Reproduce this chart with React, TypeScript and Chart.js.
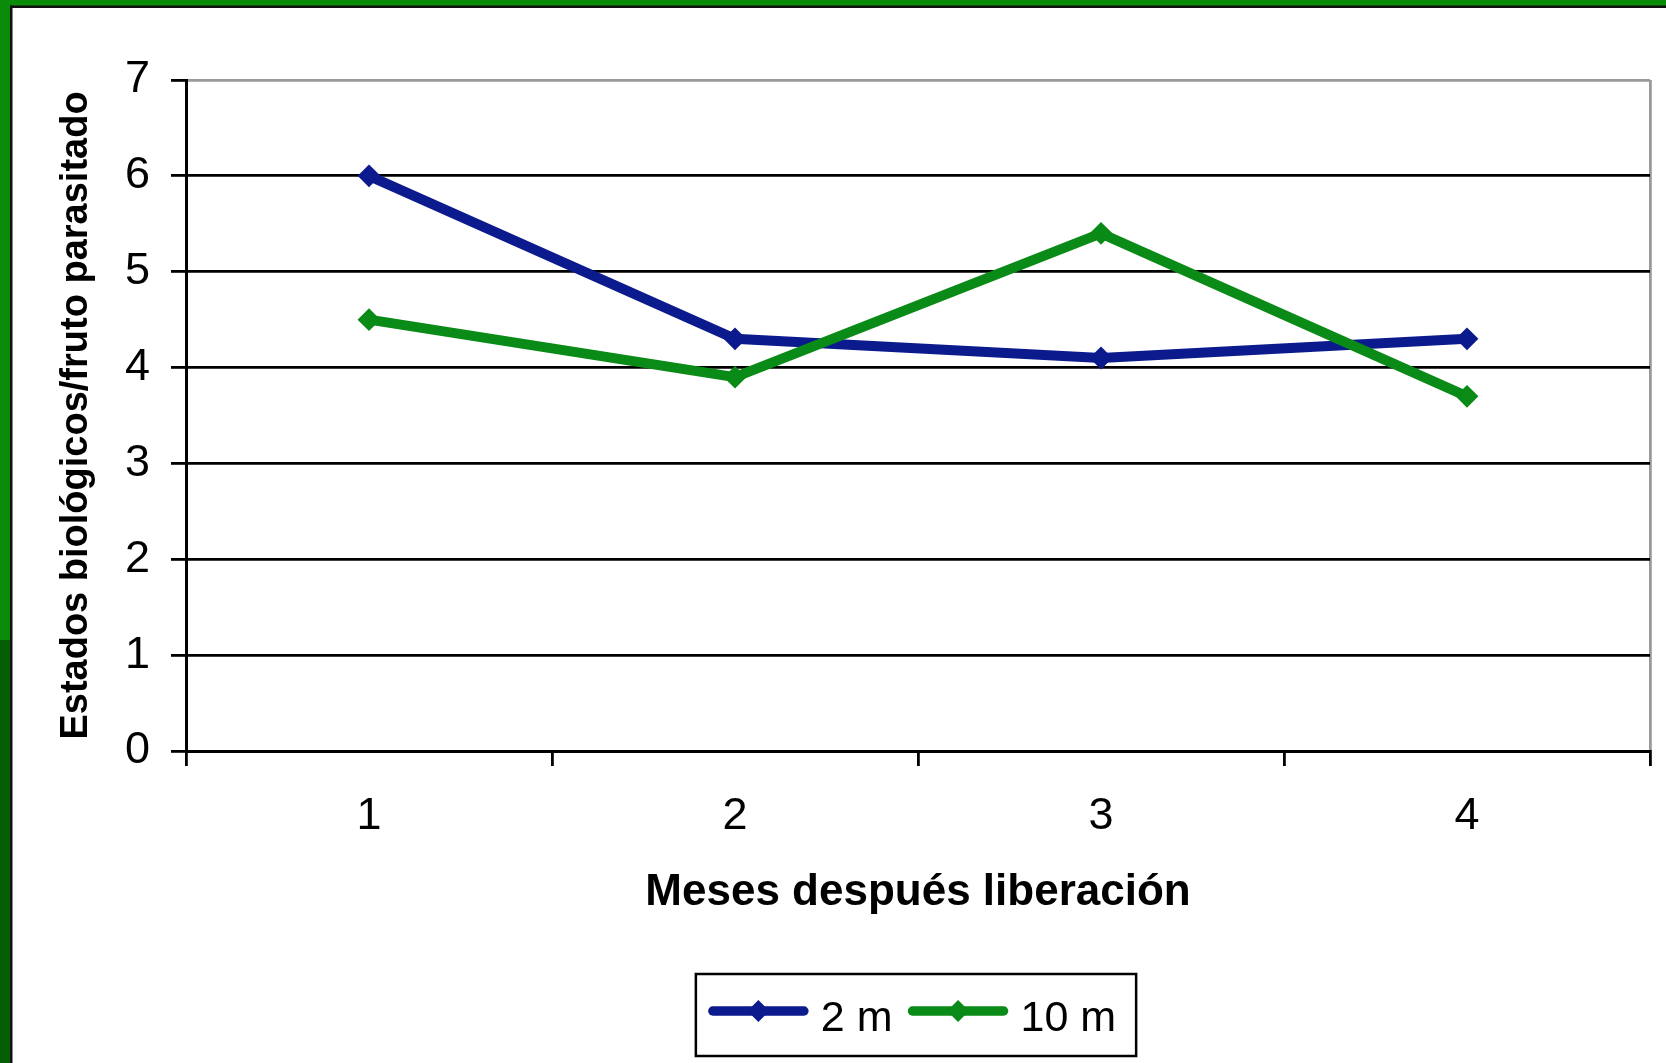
import React, { useEffect, useRef } from "react";
import { Chart, registerables } from "chart.js";

Chart.register(...registerables);

const months = ["1", "2", "3", "4"];
const series2m = [6.0, 4.3, 4.1, 4.3];
const series10m = [4.5, 3.9, 5.4, 3.7];
const seriesLabels = ["2 m", "10 m"];
const yMin = 0;
const yMax = 7;
const yStep = 1;
const xTitle = "Meses después liberación";
const yTitle = "Estados biológicos/fruto parasitado";

const BLUE = "#0b1a8c";
const GREEN = "#0a8a16";
const FONT = '"Liberation Sans", Arial, Helvetica, sans-serif';

const framePlugin = {
  id: "frame",
  beforeDraw(chart: any) {
    const { ctx, width, height } = chart;
    ctx.save();
    ctx.fillStyle = "#ffffff";
    ctx.fillRect(0, 0, width, height);
    ctx.fillStyle = "#0a8c0a";
    ctx.fillRect(0, 0, width, 6);
    ctx.fillRect(0, 0, 10, 640);
    ctx.fillStyle = "#055e05";
    ctx.fillRect(0, 640, 10, height - 640);
    ctx.fillStyle = "#111111";
    ctx.fillRect(10, 5.5, width - 10, 2.5);
    ctx.fillRect(10, 5.5, 2.5, height - 5.5);
    ctx.restore();
  },
};

function diamond(ctx: CanvasRenderingContext2D, x: number, y: number, r: number) {
  ctx.beginPath();
  ctx.moveTo(x, y - r);
  ctx.lineTo(x + r, y);
  ctx.lineTo(x, y + r);
  ctx.lineTo(x - r, y);
  ctx.closePath();
  ctx.fill();
}

const legendPlugin = {
  id: "boxLegend",
  afterDraw(chart: any) {
    const { ctx, chartArea } = chart;
    const datasets = chart.data.datasets;
    ctx.save();
    ctx.font = `43px ${FONT}`;
    const lineLen = 99;
    const gapLine = 13;
    const gapItem = 16;
    const padL = 13;
    const padR = 20;
    const widths = datasets.map((d: any) => ctx.measureText(d.label).width);
    let total = padL + padR;
    widths.forEach((w: number, i: number) => {
      total += lineLen + gapLine + w + (i > 0 ? gapItem : 0);
    });
    const cx = (chartArea.left + chartArea.right) / 2 - 2;
    const left = cx - total / 2;
    const top = 974;
    const h = 82;
    ctx.lineWidth = 2.5;
    ctx.strokeStyle = "#000";
    ctx.strokeRect(left, top, total, h);
    let x = left + padL;
    const cy = 1011;
    datasets.forEach((d: any, i: number) => {
      if (i > 0) x += gapItem;
      ctx.strokeStyle = d.borderColor;
      ctx.fillStyle = d.borderColor;
      ctx.lineWidth = 9.5;
      ctx.lineCap = "round";
      ctx.beginPath();
      ctx.moveTo(x + 4, cy);
      ctx.lineTo(x + lineLen - 4, cy);
      ctx.stroke();
      diamond(ctx, x + lineLen / 2, cy, 11);
      x += lineLen + gapLine;
      ctx.fillStyle = "#000";
      ctx.textBaseline = "alphabetic";
      ctx.textAlign = "left";
      ctx.fillText(d.label, x, 1031);
      x += widths[i];
    });
    ctx.restore();
  },
};

export default function App() {
  const canvasRef = useRef<HTMLCanvasElement | null>(null);

  useEffect(() => {
    const canvas = canvasRef.current;
    if (!canvas) return;
    const chart = new Chart(canvas, {
      type: "line",
      data: {
        labels: months,
        datasets: [
          {
            label: seriesLabels[0],
            data: series2m,
            borderColor: BLUE,
            backgroundColor: BLUE,
            borderWidth: 10,
            pointStyle: "rectRot",
            pointRadius: 10,
            pointBorderWidth: 2,
            pointBackgroundColor: BLUE,
            pointBorderColor: BLUE,
            tension: 0,
            order: 2,
          },
          {
            label: seriesLabels[1],
            data: series10m,
            borderColor: GREEN,
            backgroundColor: GREEN,
            borderWidth: 10,
            pointStyle: "rectRot",
            pointRadius: 10,
            pointBorderWidth: 2,
            pointBackgroundColor: GREEN,
            pointBorderColor: GREEN,
            tension: 0,
            order: 1,
          },
        ],
      },
      options: {
        responsive: false,
        animation: false,
        devicePixelRatio: 1,
        layout: { padding: { top: 80, right: 16, left: 0, bottom: 0 } },
        plugins: {
          legend: { display: false },
          tooltip: { enabled: false },
          title: { display: false },
        },
        scales: {
          x: {
            type: "category",
            offset: true,
            grid: {
              offset: true,
              drawOnChartArea: true,
              color: (c: any) => (c.type === "tick" ? "rgba(0,0,0,0)" : "#9a9a9a"),
              tickColor: "#000",
              tickLength: 15,
              lineWidth: 2.8,
            },
            border: { color: "#000", width: 3 },
            ticks: { color: "#000", font: { family: FONT, size: 45 }, padding: 24 },
            title: {
              display: true,
              text: xTitle,
              color: "#000",
              font: { family: FONT, size: 44, weight: "bold" },
              padding: { top: 0, bottom: 144 },
            },
            afterFit: (s: any) => {
              s.height = 312;
            },
          },
          y: {
            min: yMin,
            max: yMax,
            ticks: {
              stepSize: yStep,
              color: "#000",
              font: { family: FONT, size: 45 },
              padding: 21,
            },
            grid: {
              color: (c: any) => (c.tick && c.tick.value === yMax ? "#9a9a9a" : "#000"),
              lineWidth: 2.8,
              tickLength: 15,
              tickColor: "#000",
            },
            border: { color: "#000", width: 3 },
            title: {
              display: true,
              text: yTitle,
              color: "#000",
              font: { family: FONT, size: 38, weight: "bold" },
              padding: { top: 54, bottom: 0 },
            },
            afterFit: (s: any) => {
              s.width = 186;
            },
          },
        },
      },
      plugins: [framePlugin, legendPlugin],
    } as any);
    return () => chart.destroy();
  }, []);

  return (
    <div style={{ position: "absolute", left: 0, top: 0, width: 1666, height: 1063 }}>
      <canvas ref={canvasRef} width={1666} height={1063} style={{ display: "block" }} />
    </div>
  );
}
